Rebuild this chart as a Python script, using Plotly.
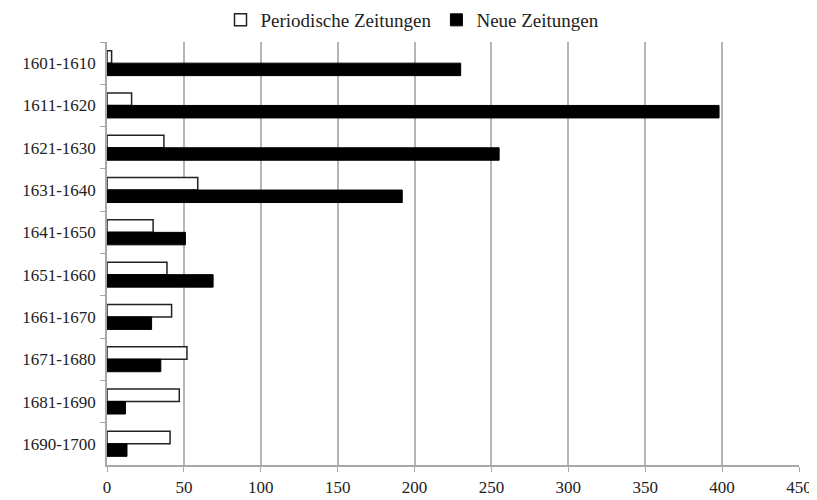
import plotly.graph_objects as go

categories = ["1601-1610", "1611-1620", "1621-1630", "1631-1640", "1641-1650",
              "1651-1660", "1661-1670", "1671-1680", "1681-1690", "1690-1700"]
periodische = [3, 16, 37, 59, 30, 39, 42, 52, 47, 41]
neue = [230, 398, 255, 192, 51, 69, 29, 35, 12, 13]
x_ticks = [0, 50, 100, 150, 200, 250, 300, 350, 400, 450]

serif = "Liberation Serif, Times New Roman, serif"

fig = go.Figure()
fig.add_trace(go.Bar(
    y=categories, x=periodische, orientation="h", name="Periodische Zeitungen",
    marker=dict(color="white", line=dict(color="#222222", width=1.5)),
))
fig.add_trace(go.Bar(
    y=categories, x=neue, orientation="h", name="Neue Zeitungen",
    marker=dict(color="black", line=dict(color="black", width=1)),
))

# page body has an 8px default margin, so the figure is sized to fit the window
fig.update_layout(
    width=809, height=492,
    margin=dict(l=99, r=18, t=34, b=35, autoexpand=False),
    paper_bgcolor="white", plot_bgcolor="white",
    font=dict(family=serif, size=17, color="#222222"),
    barmode="group", bargap=0.41, bargroupgap=0,
    showlegend=True,
    legend=dict(orientation="h", xref="container", x=0.5, xanchor="center",
                yref="paper", y=1.052, yanchor="middle",
                font=dict(family=serif, size=19, color="#222222"),
                itemwidth=30, traceorder="normal"),
    xaxis=dict(range=[0, 450], tickvals=x_ticks, ticktext=[str(v) for v in x_ticks],
               showgrid=True, gridcolor="#b5b5b5", gridwidth=1.5, automargin=False,
               zeroline=False, showline=True, linecolor="#a8a8a8", linewidth=1.5,
               ticks="outside", ticklen=5, tickcolor="#a8a8a8", ticklabelstandoff=1,
               tickfont=dict(family=serif, size=17, color="#222222")),
    yaxis=dict(autorange="reversed", type="category", showgrid=False, automargin=False,
               showline=True, linecolor="#a8a8a8", linewidth=1.5,
               ticks="outside", ticklen=5, tickcolor="#a8a8a8",
               tickson="boundaries", ticklabelstandoff=6,
               tickfont=dict(family=serif, size=17, color="#222222")),
)

fig.write_html("out.html")
